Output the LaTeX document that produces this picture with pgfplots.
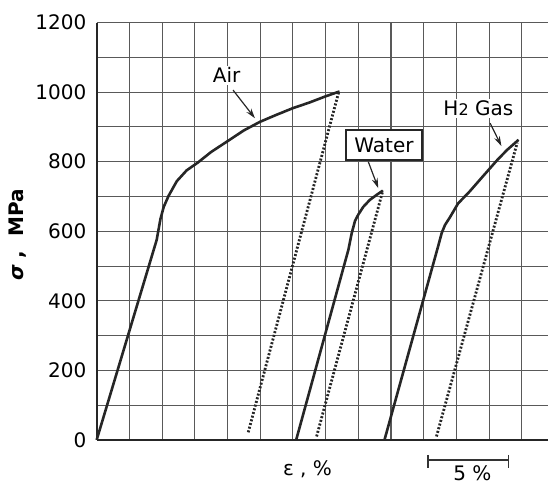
\documentclass[border=0pt]{standalone}
\usepackage{pgfplots}
\pgfplotsset{compat=1.18}
\usepackage{fontspec}
\setmainfont{DejaVu Sans}
\usetikzlibrary{arrows.meta}

\begin{document}
\begin{tikzpicture}[font=\fontsize{10}{12}\selectfont]
\begin{axis}[
  scale only axis, width=225.65pt, height=208.65pt,
  xmin=0, xmax=27.6, ymin=0, ymax=1200,
  axis x line=bottom, axis y line=left,
  axis line style={-, line width=1pt, black!85},
  xtick={0,2,...,26}, xticklabels={},
  ytick={0,200,...,1200},
  minor ytick={100,300,...,1100},
  major tick length=0pt, minor tick length=0pt,
  grid=both,
  grid style={line width=0.55pt, black!65},
  minor grid style={line width=0.55pt, black!65},
  yticklabel style={anchor=east, inner sep=0pt, xshift=-5pt},
  /pgf/number format/assume math mode=true,
  /pgf/number format/1000 sep={},
  clip=false,
]
% loading curves (solid)
\addplot[black!85, line width=1.3pt, line join=round] coordinates {
  (0,0) (3.67,575) (3.9,635) (4.1,670) (4.4,702) (4.9,744) (5.5,775) (6.2,798)
  (7.0,828) (8.1,862) (9.0,890) (10.0,915) (11.0,935) (12.0,954) (13.0,970)
  (14.0,988) (14.85,1002)
};
\addplot[black!85, line width=1.3pt, line join=round] coordinates {
  (12.2,0) (15.4,548) (15.6,595) (15.8,630) (16.0,648) (16.3,670) (16.7,690)
  (17.1,704) (17.5,717)
};
\addplot[black!85, line width=1.3pt, line join=round] coordinates {
  (17.6,0) (20.9,560) (21.1,595) (21.3,618) (21.6,640) (22.1,680) (22.8,714)
  (23.6,757) (24.5,805) (25.1,834) (25.8,863)
};
% unloading lines (dotted)
\addplot[black!85, line width=1.4pt, dash pattern=on 1pt off 0.9pt] coordinates {(9.27,22) (14.8,1000)};
\addplot[black!85, line width=1.4pt, dash pattern=on 1pt off 0.9pt] coordinates {(13.45,10) (17.5,717)};
\addplot[black!85, line width=1.4pt, dash pattern=on 1pt off 0.9pt] coordinates {(20.78,10) (25.72,855)};

% labels and arrows
\node[fill=white, inner sep=1pt] at (axis cs:7.95,1049) {Air};
\draw[black!85, line width=0.6pt, -{Stealth[length=5pt,width=3pt]}] (axis cs:8.34,1006) -- (axis cs:9.68,925);
\node[draw=black!85, line width=0.9pt, fill=white, minimum width=38pt, minimum height=15pt, inner sep=0pt] at (axis cs:17.57,848) {Water};
\draw[black!85, line width=0.6pt, -{Stealth[length=5pt,width=3pt]}] (axis cs:16.61,800) -- (axis cs:17.22,724);
\node[fill=white, inner sep=1pt] at (axis cs:23.34,954) {H{\fontsize{8}{8}\selectfont 2} Gas};
\draw[black!85, line width=0.6pt, -{Stealth[length=5pt,width=3pt]}] (axis cs:24.06,911) -- (axis cs:24.75,845);

% axis titles
\node[rotate=90] at (axis cs:-4.81,589) {\textbf{\textit{σ}\ , \ MPa}};
\node at (axis cs:12.89,-85) {ε , \%};

% 5 % scale bar
\draw[black!80, line width=0.9pt] (axis cs:20.26,-57.5) -- (axis cs:25.18,-57.5);
\draw[black!80, line width=0.9pt] (axis cs:20.26,-43) -- (axis cs:20.26,-80);
\draw[black!80, line width=0.9pt] (axis cs:25.18,-43) -- (axis cs:25.18,-80);
\node[anchor=north, inner sep=0pt] at (axis cs:22.98,-72) {5 \%};

\coordinate (bl) at (axis cs:-5.91,-128);
\coordinate (tr) at (axis cs:27.6,1265);
\end{axis}
\pgfresetboundingbox
\path[use as bounding box] (bl) rectangle (tr);
\end{tikzpicture}
\end{document}
